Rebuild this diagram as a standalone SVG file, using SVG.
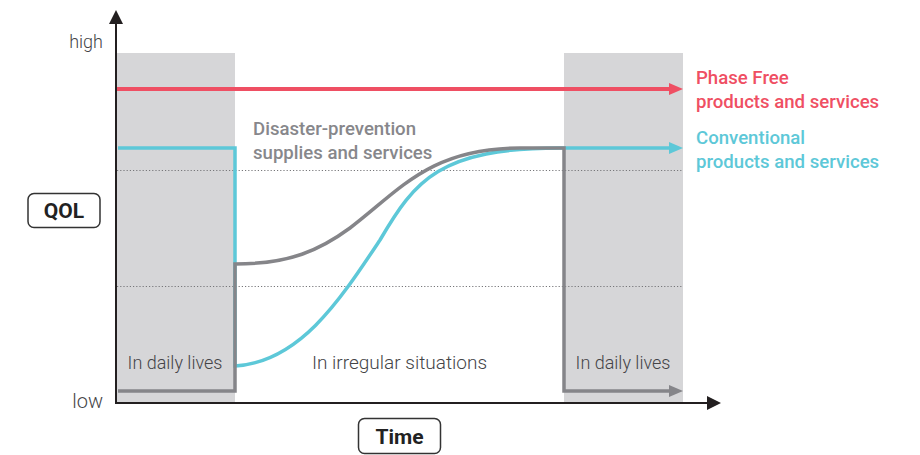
<svg xmlns="http://www.w3.org/2000/svg" width="920" height="455" viewBox="0 0 920 455">
<style>
  .lbl{font-family:Roboto,"Liberation Sans",sans-serif;}
  .light{font-weight:300;fill:#444447;font-size:18px;}
  .key{font-weight:500;font-size:18.6px;}
  .box{fill:#fff;stroke:#333;stroke-width:1.5;}
  .boxt{font-weight:700;font-size:21px;fill:#222;text-anchor:middle;}
  .dot{stroke:#77777a;stroke-width:1;stroke-dasharray:1.2 2;fill:none;}
</style>
<defs>
  <marker id="aRed" markerUnits="userSpaceOnUse" markerWidth="14" markerHeight="12" refX="0" refY="6" orient="auto"><path d="M0,0 L14,6 L0,12 z" fill="#ef4f63"/></marker>
  <marker id="aCyan" markerUnits="userSpaceOnUse" markerWidth="14" markerHeight="12" refX="0" refY="6" orient="auto"><path d="M0,0 L14,6 L0,12 z" fill="#5dc8d8"/></marker>
  <marker id="aGray" markerUnits="userSpaceOnUse" markerWidth="14" markerHeight="12" refX="0" refY="6" orient="auto"><path d="M0,0 L14,6 L0,12 z" fill="#858589"/></marker>
  <marker id="aAxis" markerUnits="userSpaceOnUse" markerWidth="14" markerHeight="14" refX="0" refY="7" orient="auto"><path d="M0,0 L14,7 L0,14 z" fill="#231f20"/></marker>
</defs>
<g id="bands">
  <rect x="117" y="53" width="118" height="350" fill="#d6d6d8"/>
  <rect x="564" y="53" width="119" height="350" fill="#d6d6d8"/>
</g>
<g id="gridlines">
  <line class="dot" x1="117" y1="170.5" x2="683" y2="170.5"/>
  <line class="dot" x1="117" y1="286.5" x2="683" y2="286.5"/>
</g>
<g id="connectors">
  <line id="phasefree-line" x1="117" y1="89" x2="669" y2="89" stroke="#ef4f63" stroke-width="4" marker-end="url(#aRed)"/>
  <path id="conventional-line" d="M118,148 L235,148 L235,366 C300,362 340,300 380,240 C415,180 440,148 560,148 L669,148" fill="none" stroke="#5dc8d8" stroke-width="3.5" marker-end="url(#aCyan)"/>
  <path id="disaster-line" d="M118,391 L235,391 L235,264 C290,264 320,250 350,228 C400,190 430,148 520,148 L564,148 L564,391 L669,391" fill="none" stroke="#858589" stroke-width="3.5" marker-end="url(#aGray)"/>
</g>
<g id="axes">
  <line x1="116" y1="404" x2="116" y2="24" stroke="#231f20" stroke-width="2" marker-end="url(#aAxis)"/>
  <line x1="115" y1="403" x2="707" y2="403" stroke="#231f20" stroke-width="2" marker-end="url(#aAxis)"/>
</g>
<g id="axis-labels" class="lbl">
  <text class="light" x="103" y="48" text-anchor="end">high</text>
  <text class="light" x="103" y="408" text-anchor="end" style="font-size:20px">low</text>
</g>
<g id="qol">
  <rect class="box" x="28" y="193.5" width="72" height="34" rx="6"/>
  <text class="lbl boxt" x="64" y="218">QOL</text>
</g>
<g id="time">
  <rect class="box" x="358.5" y="418.5" width="82" height="35" rx="6"/>
  <text class="lbl boxt" x="399.5" y="444">Time</text>
</g>
<g id="phase-labels" class="lbl">
  <text class="light" x="175" y="369" text-anchor="middle">In daily lives</text>
  <text class="light" x="399.5" y="369" text-anchor="middle" style="font-size:19px">In irregular situations</text>
  <text class="light" x="623" y="369" text-anchor="middle">In daily lives</text>
</g>
<g id="disaster-label" class="lbl key" fill="#87878b">
  <text x="253" y="135">Disaster-prevention</text>
  <text x="253" y="159">supplies and services</text>
</g>
<g id="phasefree-label" class="lbl key" fill="#ef4f63">
  <text x="696" y="84">Phase Free</text>
  <text x="696" y="108">products and services</text>
</g>
<g id="conventional-label" class="lbl key" fill="#5dc8d8">
  <text x="696" y="144">Conventional</text>
  <text x="696" y="168">products and services</text>
</g>
</svg>
